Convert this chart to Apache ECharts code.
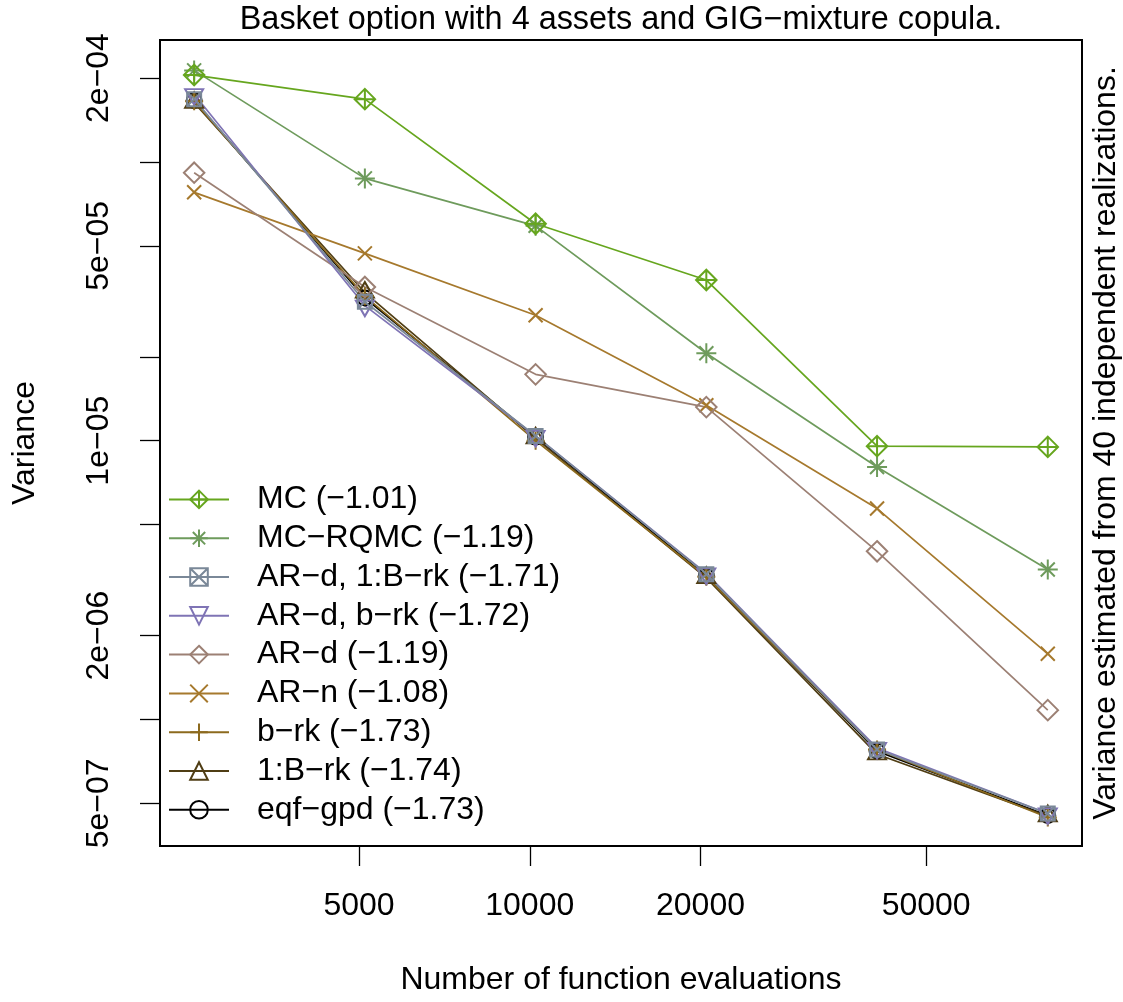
<!DOCTYPE html>
<html>
<head>
<meta charset="utf-8">
<title>Basket option variance</title>
<script src="https://cdn.jsdelivr.net/npm/echarts@6/dist/echarts.min.js"></script>
<style>
  html, body { margin: 0; padding: 0; background: #fff; }
  #chart { width: 1123px; height: 1002px; }
</style>
</head>
<body>
<div id="chart"></div>
<script>
// Number of function evaluations per estimate
const evaluations = [2560, 5120, 10240, 20480, 40960, 81920];

// Variance estimates (40 independent realizations) per method
const mc        = [2.05e-4, 1.68e-4, 6.0e-5, 3.77e-5, 9.56e-6, 9.5e-6];
const mcRqmc    = [2.13e-4, 8.73e-5, 5.9e-5, 2.06e-5, 8.05e-6, 3.45e-6];
const ardOneBrk = [1.68e-4, 3.15e-5, 1.04e-5, 3.32e-6, 7.8e-7, 4.6e-7];
const ardBrk    = [1.75e-4, 3.05e-5, 1.04e-5, 3.34e-6, 7.9e-7, 4.6e-7];
const ard       = [9.15e-5, 3.56e-5, 1.73e-5, 1.32e-5, 4.01e-6, 1.08e-6];
const arn       = [7.78e-5, 4.70e-5, 2.82e-5, 1.34e-5, 5.71e-6, 1.72e-6];
const brk       = [1.65e-4, 3.3e-5, 1.0e-5, 3.25e-6, 7.8e-7, 4.45e-7];
const oneBrk    = [1.63e-4, 3.4e-5, 1.02e-5, 3.22e-6, 7.5e-7, 4.5e-7];
const eqfGpd    = [1.66e-4, 3.25e-5, 1.03e-5, 3.27e-6, 7.7e-7, 4.52e-7];

// Legend labels (fitted slope in parentheses)
const seriesNames = [
  'MC (−1.01)', 'MC−RQMC (−1.19)', 'AR−d, 1:B−rk (−1.71)', 'AR−d, b−rk (−1.72)',
  'AR−d (−1.19)', 'AR−n (−1.08)', 'b−rk (−1.73)', '1:B−rk (−1.74)', 'eqf−gpd (−1.73)'
];
const seriesValues = [mc, mcRqmc, ardOneBrk, ardBrk, ard, arn, brk, oneBrk, eqfGpd];

// Axis ticks and labels
const xTickValues = [5000, 10000, 20000, 50000];
const xTickLabels = ['5000', '10000', '20000', '50000'];
const yTickValues = [5e-7, 1e-6, 2e-6, 5e-6, 1e-5, 2e-5, 5e-5, 1e-4, 2e-4];
const yLabelValues = [5e-7, 2e-6, 1e-5, 5e-5, 2e-4];
const yLabelTexts = ['5e−07', '2e−06', '1e−05', '5e−05', '2e−04'];

// Plot-symbol look for each method (R style open symbols)
const colors = ['#66A61E', '#6E9B5C', '#7A8898', '#7F74B5', '#9C8074', '#A6792D', '#8C6A1E', '#4F3D14', '#000000'];
const symbols = [
  'path://M0,-10L10,0L0,10L-10,0ZM0,-10L0,10M-10,0L10,0',          // diamond with plus
  'path://M0,-10L0,10M-10,0L10,0M-7,-7L7,7M-7,7L7,-7',              // asterisk
  'path://M-7,-7L7,-7L7,7L-7,7ZM-7,-7L7,7M-7,7L7,-7',               // square with cross
  'path://M-1.3468,-0.7776L1.3468,-0.7776L0,1.5551Z',               // triangle down
  'path://M0,-10L10,0L0,10L-10,0Z',                                  // diamond
  'path://M-1,-1L1,1M-1,1L1,-1',                                     // cross
  'path://M0,-1L0,1M-1,0L1,0',                                       // plus
  'path://M-1.3468,0.7776L1.3468,0.7776L0,-1.5551Z',                // triangle up
  'circle'                                                           // circle
];
const symbolSizes = [20.5, 20, 14, [18, 15.6], 20.5, 14, 18, [18, 15.6], 15];
const symbolOffsets = [[0, 0], [0, 0], [0, 0], [0, 2.7], [0, 0], [0, 0], [0, 0], [0, -2.7], [0, 0]];

const FONT = '"Liberation Sans", Arial, Helvetica, sans-serif';

function nearestLabel(v, values, texts) {
  for (let i = 0; i < values.length; i++) {
    if (Math.abs(v / values[i] - 1) < 1e-6) return texts[i];
  }
  return '';
}

// Methods are drawn last-to-first so MC ends up on top
const series = seriesNames.map((name, k) => ({
  name: name,
  type: 'line',
  data: evaluations.map((x, i) => [x, seriesValues[k][i]]),
  symbol: symbols[k],
  symbolSize: symbolSizes[k],
  symbolOffset: symbolOffsets[k],
  showAllSymbol: true,
  clip: false,
  lineStyle: { color: colors[k], width: 1.7 },
  itemStyle: { color: 'none', borderColor: colors[k], borderWidth: 2 },
  emphasis: { disabled: true },
  animation: false
})).reverse();

const chart = echarts.init(document.getElementById('chart'), null, { renderer: 'canvas' });
chart.setOption({
  animation: false,
  backgroundColor: '#ffffff',
  textStyle: { fontFamily: FONT },
  title: {
    text: 'Basket option with 4 assets and GIG−mixture copula.',
    left: 621, top: 4, padding: 0, textAlign: 'center',
    textStyle: { fontFamily: FONT, fontSize: 32.4, fontWeight: 'normal', color: '#000' }
  },
  grid: {
    left: 160, top: 40, right: 41, bottom: 156,
    containLabel: false, outerBoundsMode: 'none',
    show: true, borderColor: '#000', borderWidth: 2, backgroundColor: 'transparent'
  },
  legend: {
    orient: 'vertical', left: 168, top: 480, padding: 0,
    itemWidth: 60, itemHeight: 22, itemGap: 0,
    selectedMode: false,
    data: seriesNames,
    textStyle: { fontFamily: FONT, fontSize: 32, color: '#000', lineHeight: 38.8, padding: [0, 0, 0, 23] }
  },
  xAxis: {
    type: 'log', logBase: 10,
    min: 2228.6, max: 94130,
    name: 'Number of function evaluations',
    nameLocation: 'middle', nameGap: 118,
    nameTextStyle: { fontFamily: FONT, fontSize: 32, color: '#000' },
    axisLine: { show: true, lineStyle: { color: '#000', width: 2 } },
    axisTick: { show: true, inside: false, length: 20, customValues: xTickValues, lineStyle: { color: '#000', width: 1.3 } },
    axisLabel: {
      show: true, margin: 44, customValues: xTickValues,
      fontFamily: FONT, fontSize: 32, color: '#000',
      formatter: v => nearestLabel(v, xTickValues, xTickLabels)
    },
    splitLine: { show: false },
    minorTick: { show: false }
  },
  yAxis: {
    type: 'log', logBase: 10,
    min: 3.516e-7, max: 2.738e-4,
    name: 'Variance',
    nameLocation: 'middle', nameGap: 119,
    nameTextStyle: { fontFamily: FONT, fontSize: 32, color: '#000' },
    axisLine: { show: true, lineStyle: { color: '#000', width: 2 } },
    axisTick: { show: true, inside: false, length: 20, customValues: yTickValues, lineStyle: { color: '#000', width: 1.3 } },
    axisLabel: {
      show: true, margin: 45, rotate: 90, customValues: yLabelValues,
      fontFamily: FONT, fontSize: 32, color: '#000',
      formatter: v => nearestLabel(v, yLabelValues, yLabelTexts)
    },
    splitLine: { show: false },
    minorTick: { show: false }
  },
  graphic: [{
    type: 'text',
    x: 1106.5, y: 443,
    rotation: Math.PI / 2,
    silent: true,
    style: {
      text: 'Variance estimated from 40 independent realizations.',
      fontFamily: FONT, fontSize: 32, fill: '#000',
      align: 'center', verticalAlign: 'middle'
    }
  }],
  series: series
});
</script>
</body>
</html>
